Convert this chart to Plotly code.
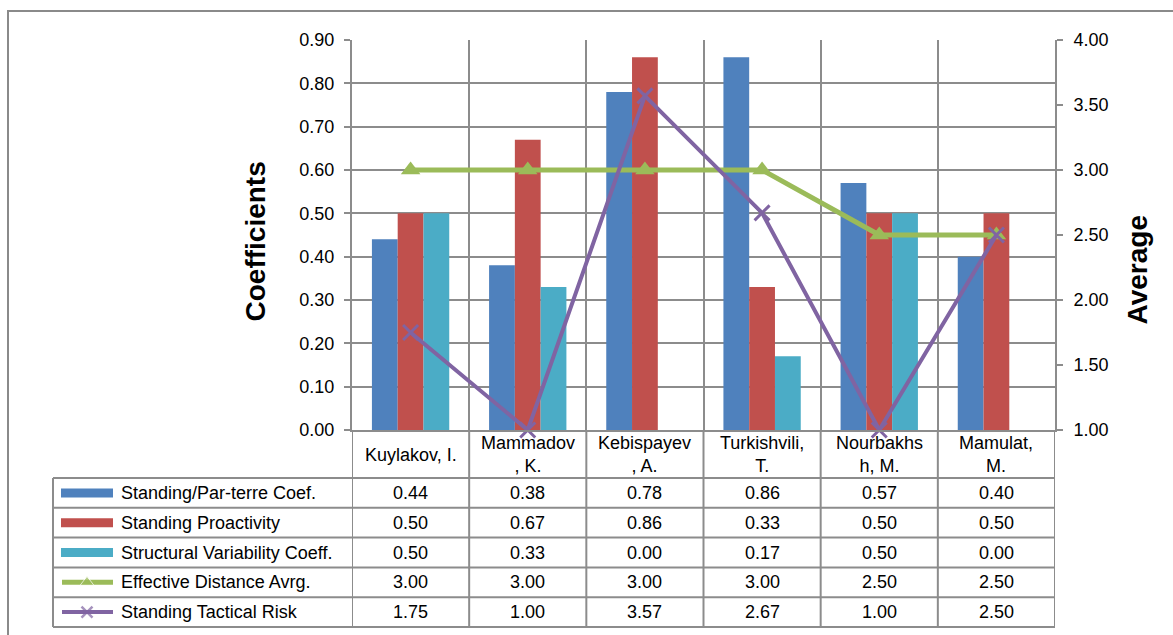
import plotly.graph_objects as go

# ---- data ----
categories = ["Kuylakov, I.", "Mammadov<br>, K.", "Kebispayev<br>, A.",
              "Turkishvili,<br>T.", "Nourbakhs<br>h, M.", "Mamulat,<br>M."]
standing_parterre = [0.44, 0.38, 0.78, 0.86, 0.57, 0.40]
standing_proactivity = [0.50, 0.67, 0.86, 0.33, 0.50, 0.50]
structural_variability = [0.50, 0.33, 0.00, 0.17, 0.50, 0.00]
effective_distance = [3.00, 3.00, 3.00, 3.00, 2.50, 2.50]
tactical_risk = [1.75, 1.00, 3.57, 2.67, 1.00, 2.50]
series_names = ["Standing/Par-terre Coef.", "Standing Proactivity",
                "Structural Variability Coeff.", "Effective Distance Avrg.",
                "Standing Tactical Risk"]

# ---- styling ----
W, H = 1173, 635
BLUE, RED, CYAN = "#4F81BD", "#C0504D", "#4BACC6"
GREEN, PURPLE = "#9BBB59", "#8064A2"
GRID = "#8c8c8c"
FONT = "Liberation Sans, Arial, sans-serif"
FS = 18
CLEAR = "rgba(0,0,0,0)"


def fx(x):
    return x / W


def fy(y):
    return 1 - y / H


PLOT_L, PLOT_R, PLOT_T, PLOT_B = 352, 1055, 40, 430
TABLE_TOP_ROW = 478
ROW_H = 29.8
TABLE_LEFT = 53
TABLE_BOTTOM = TABLE_TOP_ROW + ROW_H * 5

xs = list(range(len(categories)))

fig = go.Figure()

bar_series = [(standing_parterre, BLUE), (standing_proactivity, RED),
              (structural_variability, CYAN)]
for (vals, col), name in zip(bar_series, series_names[:3]):
    fig.add_trace(go.Bar(x=xs, y=vals, name=name, marker_color=col,
                         marker_line_width=0, xaxis="x", yaxis="y"))

fig.add_trace(go.Scatter(x=xs, y=effective_distance, name=series_names[3],
                         mode="lines+markers", xaxis="x", yaxis="y2",
                         line=dict(color=GREEN, width=5),
                         marker=dict(symbol="triangle-up", size=17, color=GREEN),
                         cliponaxis=False))
fig.add_trace(go.Scatter(x=xs, y=tactical_risk, name=series_names[4],
                         mode="lines+markers", xaxis="x", yaxis="y2",
                         line=dict(color=PURPLE, width=4),
                         marker=dict(symbol="x-thin", size=15,
                                     line=dict(color=PURPLE, width=3)),
                         cliponaxis=False))

# legend keys in the first column of the data table (pixel-space axis)
row_centers = [TABLE_TOP_ROW + ROW_H * (i + 0.5) for i in range(5)]
for i, col in enumerate([BLUE, RED, CYAN]):
    fig.add_trace(go.Scatter(x=[61, 113], y=[row_centers[i]] * 2, mode="lines",
                             line=dict(color=col, width=9), xaxis="x3", yaxis="y3",
                             hoverinfo="skip"))
fig.add_trace(go.Scatter(x=[62, 87, 113], y=[row_centers[3]] * 3, mode="lines+markers",
                         line=dict(color=GREEN, width=5), xaxis="x3", yaxis="y3",
                         marker=dict(symbol="triangle-up", size=[0, 12, 0], color=GREEN),
                         hoverinfo="skip"))
fig.add_trace(go.Scatter(x=[62, 87, 113], y=[row_centers[4]] * 3, mode="lines+markers",
                         line=dict(color=PURPLE, width=4), xaxis="x3", yaxis="y3",
                         marker=dict(symbol="x-thin", size=[0, 11, 0],
                                     line=dict(color=PURPLE, width=2.5)),
                         hoverinfo="skip"))

shapes = []
annotations = []

# outer chart border
shapes.append(dict(type="rect", xref="paper", yref="paper",
                   x0=fx(8), x1=1.02, y0=fy(11), y1=-0.02,
                   line=dict(color="#8a8a8a", width=2)))

# table horizontal lines
for k in range(6):
    y = TABLE_TOP_ROW + ROW_H * k
    shapes.append(dict(type="line", xref="paper", yref="paper",
                       x0=fx(TABLE_LEFT), x1=fx(PLOT_R), y0=fy(y), y1=fy(y),
                       line=dict(color=GRID, width=2)))
# table vertical lines
shapes.append(dict(type="line", xref="paper", yref="paper",
                   x0=fx(TABLE_LEFT), x1=fx(TABLE_LEFT),
                   y0=fy(TABLE_TOP_ROW), y1=fy(TABLE_BOTTOM),
                   line=dict(color=GRID, width=2)))
for k in range(len(categories) + 1):
    shapes.append(dict(type="line", xref="x", yref="paper",
                       x0=k - 0.5, x1=k - 0.5, y0=fy(PLOT_B), y1=fy(TABLE_BOTTOM),
                       line=dict(color=GRID, width=2)))

# header labels
for i, c in enumerate(categories):
    annotations.append(dict(x=i, y=fy((PLOT_B + TABLE_TOP_ROW) / 2 + 1),
                            xref="x", yref="paper", text=c, showarrow=False,
                            xanchor="center", yanchor="middle",
                            font=dict(family=FONT, size=FS, color="black")))

# table rows
rows = [standing_parterre, standing_proactivity, structural_variability,
        effective_distance, tactical_risk]
for r, (vals, name) in enumerate(zip(rows, series_names)):
    yc = fy(row_centers[r])
    annotations.append(dict(x=fx(119), y=yc, xref="paper", yref="paper",
                            text=name, showarrow=False, xanchor="left",
                            yanchor="middle",
                            font=dict(family=FONT, size=FS, color="black")))
    for i, v in enumerate(vals):
        annotations.append(dict(x=i, y=yc, xref="x", yref="paper",
                                text=f"{v:.2f}", showarrow=False,
                                xanchor="center", yanchor="middle",
                                font=dict(family=FONT, size=FS, color="black")))

# axis titles
annotations.append(dict(x=fx(237), y=fy(242), xref="paper", yref="paper",
                        text="<b>Coefficients</b>", textangle=-90, showarrow=False,
                        font=dict(family=FONT, size=28, color="black")))
annotations.append(dict(x=fx(1154), y=fy(270), xref="paper", yref="paper",
                        text="<b>Average</b>", textangle=-90, showarrow=False,
                        font=dict(family=FONT, size=28, color="black")))

fig.update_layout(
    width=W, height=H,
    margin=dict(l=0, r=0, t=0, b=0, pad=0, autoexpand=False),
    paper_bgcolor="white", plot_bgcolor=CLEAR,
    showlegend=False,
    barmode="group", bargap=0.34, bargroupgap=0,
    font=dict(family=FONT, size=FS, color="black"),
    xaxis=dict(domain=[fx(PLOT_L), fx(PLOT_R)], range=[-0.5, 5.5],
               tickvals=[0.5, 1.5, 2.5, 3.5, 4.5], showticklabels=False,
               showgrid=True, gridcolor=GRID, gridwidth=2, ticks="",
               showline=True, linecolor=GRID, linewidth=2, zeroline=False,
               automargin=False, fixedrange=True),
    yaxis=dict(domain=[fy(PLOT_B), fy(PLOT_T)], range=[0, 0.9], dtick=0.1,
               tick0=0, tickformat=".2f", showgrid=True, gridcolor=GRID,
               gridwidth=2, showline=True, linecolor=GRID, linewidth=2,
               ticks="outside", ticklen=6, tickcolor=GRID, tickwidth=2,
               ticklabelstandoff=6, zeroline=False, automargin=False,
               tickfont=dict(family=FONT, size=FS, color="black")),
    yaxis2=dict(overlaying="y", side="right", range=[1, 4], dtick=0.5,
                tick0=1, tickformat=".2f", showgrid=False, showline=True,
                linecolor=GRID, linewidth=2, ticks="outside", ticklen=6,
                tickcolor=GRID, tickwidth=2, ticklabelstandoff=7,
                zeroline=False, anchor="x", automargin=False,
                tickfont=dict(family=FONT, size=FS, color="black")),
    xaxis3=dict(domain=[fx(TABLE_LEFT), fx(PLOT_L)], range=[TABLE_LEFT, PLOT_L],
                visible=False, anchor="y3", automargin=False),
    yaxis3=dict(domain=[fy(TABLE_BOTTOM), fy(TABLE_TOP_ROW)],
                range=[TABLE_BOTTOM, TABLE_TOP_ROW], visible=False, anchor="x3",
                automargin=False),
    shapes=shapes,
    annotations=annotations,
)

fig.write_html("out.html")
